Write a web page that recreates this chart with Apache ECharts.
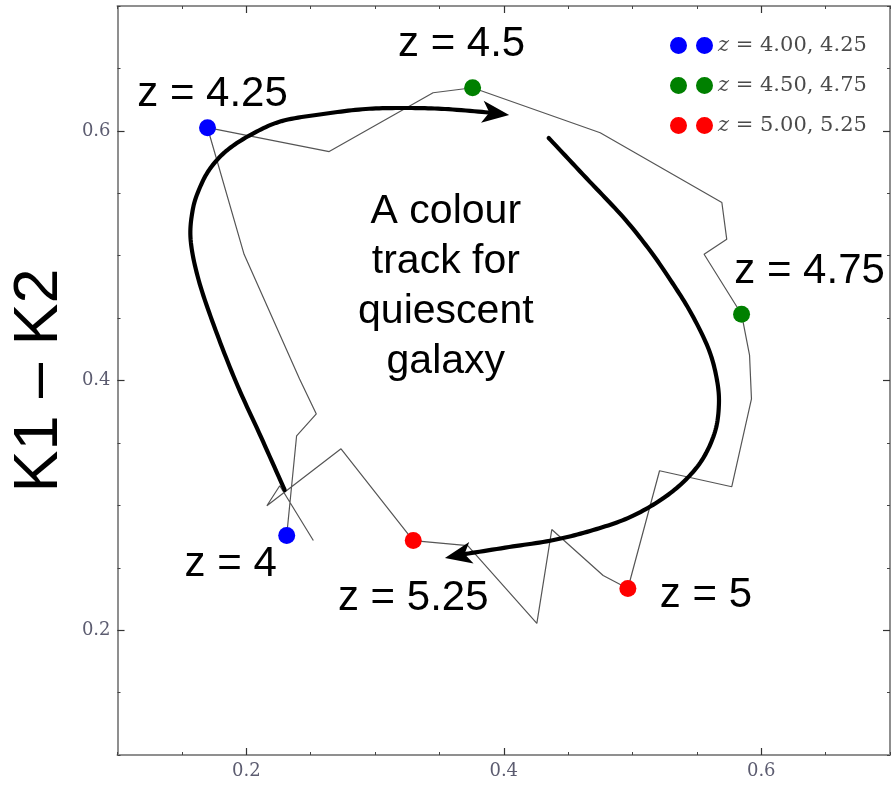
<!DOCTYPE html>
<html>
<head>
<meta charset="utf-8">
<script src="https://cdn.jsdelivr.net/npm/echarts@6/dist/echarts.min.js"></script>
<style>
  html, body { margin: 0; padding: 0; background: #ffffff; }
  #chart { width: 894px; height: 785px; }
</style>
</head>
<body>
<div id="chart"></div>
<script>
// Colour track of a quiescent galaxy in the K1–K2 plane, followed step by step in redshift
const trackX = [0.2314, 0.2391, 0.2544, 0.2414, 0.1983, 0.1699, 0.2644, 0.3451, 0.3758, 0.4749,
                0.5694, 0.5732, 0.5556, 0.5847, 0.5909, 0.5924, 0.5771, 0.5210, 0.4964, 0.4772,
                0.4373, 0.4257, 0.3720, 0.3297, 0.2736, 0.2160, 0.2260, 0.2521];
const trackY = [0.2758, 0.3557, 0.3732, 0.4012, 0.5011, 0.6025, 0.5834, 0.6305, 0.6345, 0.5985,
                0.5426, 0.5131, 0.5011, 0.4531, 0.4204, 0.3852, 0.3149, 0.3277, 0.2334, 0.2438,
                0.2806, 0.2055, 0.2678, 0.2718, 0.3453, 0.2997, 0.3157, 0.2718];

// Marked redshifts, two per colour group
const groupNames = ['4.00, 4.25', '4.50, 4.75', '5.00, 5.25'];
const groupColors = ['#0000ff', '#008000', '#ff0000'];
const markerRedshift = [['4', '4.25'], ['4.5', '4.75'], ['5', '5.25']];
const markerX = [[0.2314, 0.1699], [0.3758, 0.5847], [0.4964, 0.3297]];
const markerY = [[0.2758, 0.6025], [0.6345, 0.4531], [0.2334, 0.2718]];

// Axis ticks
const xMajorTicks = [0.2, 0.4, 0.6];
const yMajorTicks = [0.2, 0.4, 0.6];

// Curved guide arrows (data coordinates, last point is the arrow tip)
const arrowPaths = [
  [[0.2298, 0.3123], [0.2114, 0.3548], [0.1930, 0.3964], [0.1761, 0.4405], [0.1630, 0.4805],
   [0.1568, 0.5126], [0.1584, 0.5366], [0.1638, 0.5542], [0.1722, 0.5702], [0.1853, 0.5846],
   [0.2045, 0.5974], [0.2275, 0.6078], [0.2598, 0.6135], [0.2928, 0.6175], [0.3236, 0.6183],
   [0.3543, 0.6175], [0.3850, 0.6151], [0.4042, 0.6127]],
  [[0.4349, 0.5943], [0.4641, 0.5622], [0.4926, 0.5310], [0.5133, 0.5045], [0.5310, 0.4781],
   [0.5463, 0.4525], [0.5594, 0.4244], [0.5656, 0.4004], [0.5671, 0.3804], [0.5640, 0.3587],
   [0.5540, 0.3363], [0.5387, 0.3179], [0.5195, 0.3027], [0.4964, 0.2898], [0.4695, 0.2802],
   [0.4388, 0.2722], [0.4042, 0.2666], [0.3773, 0.2626], [0.3543, 0.2578]]
];
const captionText = 'A colour\ntrack for\nquiescent\ngalaxy';
const captionAt = [0.3550, 0.4750];

// Where each redshift label sits relative to its dot (pixels)
const labelPlacement = [[[-56, 29], [5, -33]], [[-11, -43], [68, -43]], [[78, 7], [0, 58]]];

const chart = echarts.init(document.getElementById('chart'), null, { renderer: 'canvas' });

const tickFont = { fontFamily: 'DejaVu Serif', fontSize: 18, color: '#5c5c70' };
const frameLine = { color: '#8f8f8f', width: 2 };

function frameAxes(sides, labelSide, majors, extra) {
  const axes = [];
  sides.forEach(function (side) {
    axes.push(Object.assign({
      type: 'value', position: side, min: 0.1, max: 0.7, interval: 0.05,
      axisLine: { show: true, onZero: false, lineStyle: frameLine },
      axisTick: { show: true, inside: true, length: 3, lineStyle: { color: '#444', width: 1 } },
      axisLabel: side === labelSide
        ? Object.assign({ show: true, customValues: majors, margin: 7,
            formatter: function (v) { return v.toFixed(1); } }, tickFont)
        : { show: false },
      splitLine: { show: false }
    }, side === labelSide ? extra : {}));
    axes.push({
      type: 'value', position: side, min: 0.1, max: 0.7, interval: 0.05,
      axisLine: { show: false, onZero: false },
      axisTick: { show: true, inside: true, length: 7, customValues: majors,
                  lineStyle: { color: '#333', width: 1.2 } },
      axisLabel: { show: false },
      splitLine: { show: false }
    });
  });
  return axes;
}

const scatterSeries = groupNames.map(function (name, g) {
  return {
    name: name,
    type: 'scatter',
    xAxisIndex: 0, yAxisIndex: 0,
    symbol: 'circle',
    symbolSize: 17,
    z: 5,
    itemStyle: { color: groupColors[g], opacity: 1 },
    label: {
      show: true, position: 'inside', color: '#000000',
      fontFamily: 'Liberation Sans', fontSize: 42,
      formatter: function (p) { return 'z = ' + p.name; }
    },
    emphasis: { disabled: true },
    data: markerX[g].map(function (x, i) {
      return { name: markerRedshift[g][i], value: [x, markerY[g][i]],
               label: { offset: labelPlacement[g][i] } };
    })
  };
});

// Catmull-Rom interpolation through the guide points, in pixel space
function catmullRom(pts, steps) {
  const out = [];
  for (let i = 0; i < pts.length - 1; i++) {
    const p0 = pts[Math.max(i - 1, 0)], p1 = pts[i], p2 = pts[i + 1], p3 = pts[Math.min(i + 2, pts.length - 1)];
    for (let s = 0; s < steps; s++) {
      const t = s / steps, t2 = t * t, t3 = t2 * t;
      const f = function (a, b, c, d) {
        return 0.5 * ((2 * b) + (-a + c) * t + (2 * a - 5 * b + 4 * c - d) * t2 + (-a + 3 * b - 3 * c + d) * t3);
      };
      out.push([f(p0[0], p1[0], p2[0], p3[0]), f(p0[1], p1[1], p2[1], p3[1])]);
    }
  }
  out.push(pts[pts.length - 1]);
  return out;
}

function renderArrow(params, api) {
  const pts = arrowPaths[params.dataIndex].map(function (p) { return api.coord(p); });
  const tip = pts[pts.length - 1];
  const prev = pts[pts.length - 2];
  const dx = tip[0] - prev[0], dy = tip[1] - prev[1];
  const len = Math.hypot(dx, dy);
  const ux = dx / len, uy = dy / len;
  const nx = -uy, ny = ux;
  const L = 27, W = 11, notch = 7;
  const lineEnd = [tip[0] - ux * (L - notch - 1), tip[1] - uy * (L - notch - 1)];
  const linePts = catmullRom(pts.slice(0, -2).concat([lineEnd]), 12);
  const head = [
    tip,
    [tip[0] - ux * L + nx * W, tip[1] - uy * L + ny * W],
    [tip[0] - ux * (L - notch), tip[1] - uy * (L - notch)],
    [tip[0] - ux * L - nx * W, tip[1] - uy * L - ny * W]
  ];
  return {
    type: 'group',
    children: [
      { type: 'polyline', shape: { points: linePts },
        style: { stroke: '#000000', lineWidth: 4.2, fill: null, lineCap: 'round', lineJoin: 'round' } },
      { type: 'polygon', shape: { points: head }, style: { fill: '#000000' } }
    ]
  };
}

function renderCaption(params, api) {
  const c = api.coord(captionAt);
  return {
    type: 'text', x: c[0], y: c[1],
    style: { text: captionText, fill: '#000000', fontFamily: 'Liberation Sans', fontSize: 41,
             lineHeight: 50, align: 'center', verticalAlign: 'middle' }
  };
}

const option = {
  animation: false,
  backgroundColor: '#ffffff',
  grid: { left: 109, right: 4, top: 6, bottom: 30, containLabel: false },
  legend: {
    data: groupNames,
    orient: 'vertical',
    left: 665, top: 30,
    itemWidth: 43, itemHeight: 17, itemGap: 19,
    selectedMode: false,
    icon: 'path://M0,8.5a8.5,8.5 0 1,0 17,0a8.5,8.5 0 1,0 -17,0ZM26,8.5a8.5,8.5 0 1,0 17,0a8.5,8.5 0 1,0 -17,0Z',
    formatter: function (name) { return '{i|z} {t|= ' + name + '}'; },
    textStyle: {
      fontFamily: 'DejaVu Serif', fontSize: 21, color: '#4a4a4a',
      rich: {
        i: { fontFamily: 'DejaVu Serif', fontSize: 21, fontStyle: 'italic', color: '#4a4a4a' },
        t: { fontFamily: 'DejaVu Serif', fontSize: 21, color: '#4a4a4a' }
      }
    }
  },
  xAxis: frameAxes(['bottom', 'top'], 'bottom', xMajorTicks, {}),
  yAxis: frameAxes(['left', 'right'], 'left', yMajorTicks, {
    name: 'K1 – K2',
    nameLocation: 'middle',
    nameRotate: 90,
    nameGap: 36,
    nameTextStyle: { fontFamily: 'Liberation Sans', fontSize: 63, color: '#000000' }
  }),
  series: [
    {
      name: 'track',
      type: 'line',
      xAxisIndex: 0, yAxisIndex: 0,
      showSymbol: false,
      symbol: 'none',
      z: 2,
      silent: true,
      lineStyle: { color: '#555555', width: 1.2 },
      data: trackX.map(function (x, i) { return [x, trackY[i]]; })
    },
    {
      name: 'arrows',
      type: 'custom',
      xAxisIndex: 0, yAxisIndex: 0,
      z: 3,
      silent: true,
      renderItem: renderArrow,
      data: arrowPaths.map(function (p) { return p[0]; })
    },
    {
      name: 'caption',
      type: 'custom',
      xAxisIndex: 0, yAxisIndex: 0,
      z: 6,
      silent: true,
      renderItem: renderCaption,
      data: [captionAt]
    }
  ].concat(scatterSeries)
};

chart.setOption(option);
</script>
</body>
</html>
